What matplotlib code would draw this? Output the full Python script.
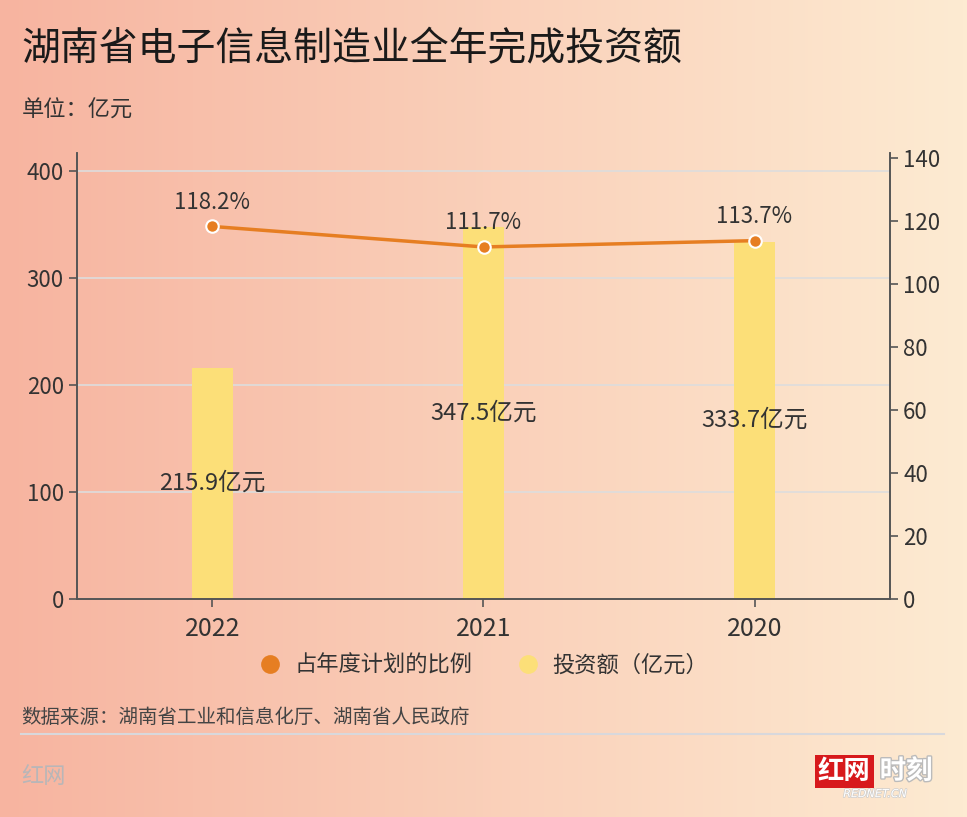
import numpy as np
import matplotlib
matplotlib.use("Agg")
import matplotlib.pyplot as plt
from matplotlib import patheffects
from matplotlib.colors import LinearSegmentedColormap
from matplotlib.lines import Line2D

plt.rcParams['font.family'] = ['Noto Sans CJK SC', 'DejaVu Sans']

# data
years = ["2022", "2021", "2020"]
invest = [215.9, 347.5, 333.7]          # 投资额（亿元）
plan_pct = [118.2, 111.7, 113.7]        # 占年度计划的比例 (%)

bar_color = "#FCDF78"
line_color = "#E67E22"
text_color = "#333333"
axis_color = "#555555"

fig = plt.figure(figsize=(9.67, 8.17), dpi=100)

# background gradient
bg = fig.add_axes([0, 0, 1, 1], zorder=-10)
grad_cmap = LinearSegmentedColormap.from_list("bg", ["#F7B4A0", "#FDEBD2"])
bg.imshow(np.linspace(0, 1, 256).reshape(1, -1), cmap=grad_cmap, aspect="auto",
          extent=[0, 1, 0, 1])
bg.set_axis_off()

ax = fig.add_axes([0.0796, 0.2668, 0.8408, 0.5459])
ax.set_facecolor("none")
ax2 = ax.twinx()

x = np.arange(len(years))
ax.bar(x, invest, width=0.15, color=bar_color, zorder=2)
for xi, v in zip(x, invest):
    ax.text(xi, v / 2, f"{v}亿元", ha="center", va="center", fontsize=17,
            color=text_color, zorder=5)

ax.set_xlim(-0.5, 2.5)
ax.set_ylim(0, 417)
ax.set_yticks([0, 100, 200, 300, 400])
ax.set_xticks(x)
ax.set_xticklabels(years)
ax.yaxis.grid(True, color="#DDDDDD", linewidth=1.2, zorder=0)
ax.set_axisbelow(True)

ax2.plot(x, plan_pct, color=line_color, linewidth=2.5, marker="o", markersize=9,
         markerfacecolor=line_color, markeredgecolor="white", markeredgewidth=1.5,
         zorder=4)
for xi, v in zip(x, plan_pct):
    ax2.text(xi, v + 4, f"{v}%", ha="center", va="bottom", fontsize=16,
             color=text_color)
ax2.set_ylim(0, 141.5)
ax2.set_yticks(range(0, 141, 20))

for a in (ax, ax2):
    a.spines["top"].set_visible(False)
    for s in ("left", "right", "bottom"):
        a.spines[s].set_color(axis_color)
        a.spines[s].set_linewidth(1.2)
    a.tick_params(colors=axis_color, labelcolor=text_color, labelsize=16,
                  length=6, width=1.2)
ax.tick_params(axis="x", pad=6, labelsize=18)

# legend
handles = [
    Line2D([], [], marker="o", linestyle="none", markersize=13.5,
           markerfacecolor=line_color, markeredgecolor="none", label="占年度计划的比例"),
    Line2D([], [], marker="o", linestyle="none", markersize=13.5,
           markerfacecolor=bar_color, markeredgecolor="none", label="投资额（亿元）"),
]
fig.legend(handles=handles, loc="center", bbox_to_anchor=(0.494, 0.186), ncol=2,
           frameon=False, fontsize=16, handletextpad=0.1, columnspacing=1.5,
           labelcolor=text_color)

# titles and notes
fig.text(0.022, 0.94, "湖南省电子信息制造业全年完成投资额", fontsize=28,
         color="#1A1A1A", va="center")
fig.text(0.022, 0.865, "单位：亿元", fontsize=16, color=text_color, va="center")
fig.text(0.022, 0.122, "数据来源：湖南省工业和信息化厅、湖南省人民政府", fontsize=14,
         color="#444444", va="center")
fig.add_artist(Line2D([0.022, 0.976], [0.102, 0.102], color="#D8D8DC",
                      linewidth=1.5, transform=fig.transFigure))
fig.text(0.022, 0.05, "红网", fontsize=16, color="#B8B6B8", va="center")

# logo
fig.text(0.873, 0.056, "红网", fontsize=19, fontweight="bold", color="white",
         style="italic", va="center", ha="center",
         bbox=dict(boxstyle="square,pad=0.12", facecolor="#D7191C", edgecolor="none"))
fig.text(0.937, 0.056, "时刻", fontsize=19, fontweight="bold", color="white",
         style="italic", va="center", ha="center",
         path_effects=[patheffects.withStroke(linewidth=2, foreground="#BBBBBB")])
fig.text(0.905, 0.028, "REDNET.CN", fontsize=8, color="white", style="italic",
         va="center", ha="center", family="DejaVu Sans",
         path_effects=[patheffects.withStroke(linewidth=1, foreground="#CCCCCC")])

fig.savefig("out.png", dpi=100)
